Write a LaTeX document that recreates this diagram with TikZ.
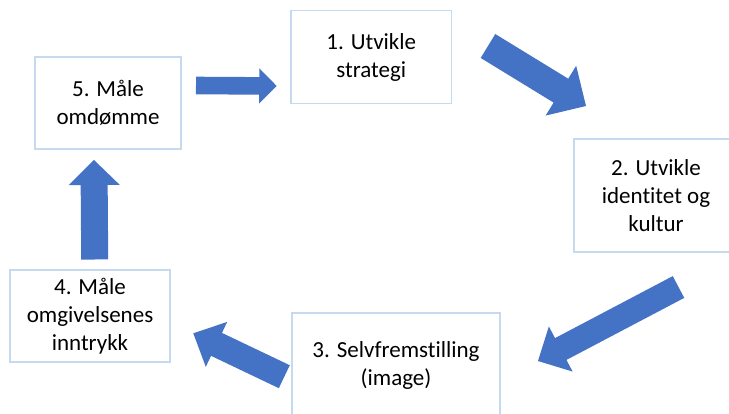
\documentclass[tikz,border=0pt]{standalone}
\usepackage{fontspec}
\setmainfont[Ligatures={NoCommon}]{Carlito}
\usetikzlibrary{calc}
\definecolor{boxline}{HTML}{C5DAEF}
\definecolor{arrowblue}{HTML}{4472C4}
\tikzset{
  stage/.style={draw=boxline, line width=1.3pt, fill=white, align=center, inner sep=0pt,
    font=\fontsize{23}{28}\selectfont, text=black},
  blockfill/.style={fill=arrowblue, draw=none}
}
% #1 tail, #2 tip, #3 half shaft width, #4 half head width, #5 head length
\newcommand{\myblockarrow}[5]{%
  \coordinate (hb) at ($(#2)!#5!(#1)$);
  \fill[blockfill] ($(#1)!#3!90:(#2)$) -- ($(hb)!#3!-90:(#1)$) -- ($(hb)!#4!-90:(#1)$)
    -- (#2) -- ($(hb)!#4!90:(#1)$) -- ($(hb)!#3!90:(#1)$) -- ($(#1)!#3!-90:(#2)$) -- cycle;
}
\begin{document}
\begin{tikzpicture}[x=1pt, y=-1pt]
  \useasboundingbox (0,0) rectangle (729,414);
  \clip (0,0) rectangle (729,414);
  \fill[white] (0,0) rectangle (729,414);

  \node[stage, minimum width=160.7pt, minimum height=92.6pt] (s1) at (371.3,57) {1. Utvikle\\strategi};
  \node[stage, minimum width=164pt, minimum height=113pt] (s2) at (656,195.5) {2. Utvikle\\identitet og\\kultur};
  \node[stage, minimum width=208pt, minimum height=104pt] (s3) at (396,365) {3. Selvfremstilling\\(image)};
  \node[stage, minimum width=160pt, minimum height=92pt] (s4) at (90,316) {4. Måle\\omgivelsenes\\inntrykk};
  \node[stage, minimum width=146pt, minimum height=92pt] (s5) at (108,103) {5. Måle\\omdømme};

  % arrow 5 -> 1
  \coordinate (a1t) at (196,85.5);   \coordinate (a1p) at (276.7,86);
  \myblockarrow{a1t}{a1p}{8.8pt}{17.5pt}{17.4pt}
  % arrow 1 -> 2
  \coordinate (a2t) at (488,46);     \coordinate (a2p) at (586,106);
  \myblockarrow{a2t}{a2p}{14pt}{29.2pt}{29.4pt}
  % arrow 2 -> 3
  \coordinate (a3t) at (678.5,287);  \coordinate (a3p) at (538,361);
  \myblockarrow{a3t}{a3p}{12.3pt}{25.5pt}{25.7pt}
  % arrow 3 -> 4
  \coordinate (a4t) at (284.3,376.7); \coordinate (a4p) at (193.3,333.3);
  \myblockarrow{a4t}{a4p}{12.7pt}{24.9pt}{25.7pt}
  % arrow 4 -> 5
  \coordinate (a5t) at (94.7,259.5); \coordinate (a5p) at (94,160);
  \myblockarrow{a5t}{a5p}{13.5pt}{25.5pt}{25pt}
\end{tikzpicture}
\end{document}
